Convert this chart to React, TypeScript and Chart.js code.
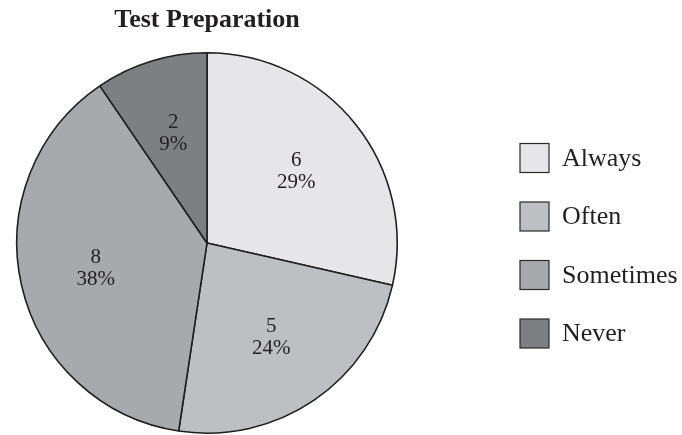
import React, { useEffect, useRef } from "react";
import { Chart, registerables } from "chart.js";

Chart.register(...registerables);

const title = "Test Preparation";
const categories = ["Always", "Often", "Sometimes", "Never"];
const counts = [6, 5, 8, 2];
const percentLabels = ["29%", "24%", "38%", "9%"];
const sliceColors = ["#e6e6e8", "#bebfc3", "#a8a9ad", "#7e7f83"];

const SERIF = "'Liberation Serif', 'Times New Roman', serif";
const TEXT = "#231f20";

// Draws the title, the in-slice value/percent labels and the side legend.
const annotationsPlugin = {
  id: "pieAnnotations",
  afterDatasetsDraw(chart: any) {
    const ctx = chart.ctx as CanvasRenderingContext2D;
    const meta = chart.getDatasetMeta(0);
    ctx.save();

    // title
    ctx.fillStyle = TEXT;
    ctx.font = `bold 26px ${SERIF}`;
    ctx.textAlign = "center";
    ctx.textBaseline = "middle";
    const first = meta.data[0];
    ctx.fillText(title, first.x, 20);

    // slice labels
    ctx.font = `21px ${SERIF}`;
    meta.data.forEach((arc: any, i: number) => {
      const mid = (arc.startAngle + arc.endAngle) / 2;
      const dist = arc.outerRadius * 0.6;
      const cx = arc.x + Math.cos(mid) * dist;
      const cy = arc.y + Math.sin(mid) * dist;
      ctx.fillText(String(counts[i]), cx, cy - 11);
      ctx.fillText(percentLabels[i], cx, cy + 11);
    });

    // legend
    const boxX = 520;
    const box = 29;
    const rowY0 = 158;
    const rowGap = 58.5;
    ctx.textAlign = "left";
    ctx.font = `26px ${SERIF}`;
    categories.forEach((name, i) => {
      const y = rowY0 + i * rowGap;
      ctx.fillStyle = sliceColors[i];
      ctx.fillRect(boxX, y - box / 2, box, box);
      ctx.strokeStyle = "#2a2a2a";
      ctx.lineWidth = 1.2;
      ctx.strokeRect(boxX, y - box / 2, box, box);
      ctx.fillStyle = TEXT;
      ctx.fillText(name, 562, y + 1);
    });

    ctx.restore();
  },
};

export default function App() {
  const canvasRef = useRef<HTMLCanvasElement | null>(null);

  useEffect(() => {
    document.body.style.margin = "0";
    const canvas = canvasRef.current;
    if (!canvas) return;
    const chart = new Chart(canvas, {
      type: "pie",
      data: {
        labels: categories,
        datasets: [
          {
            data: counts,
            backgroundColor: sliceColors,
            borderColor: "#1e1e1e",
            borderWidth: 1.6,
          },
        ],
      },
      options: {
        responsive: false,
        animation: false,
        layout: { padding: { top: 52, bottom: 1, left: 16, right: 284 } },
        plugins: {
          legend: { display: false },
          title: { display: false },
          tooltip: { enabled: false },
        },
      },
      plugins: [annotationsPlugin],
    });
    return () => chart.destroy();
  }, []);

  return (
    <div style={{ width: 682, height: 435, background: "#ffffff" }}>
      <canvas ref={canvasRef} width={682} height={435} />
    </div>
  );
}
